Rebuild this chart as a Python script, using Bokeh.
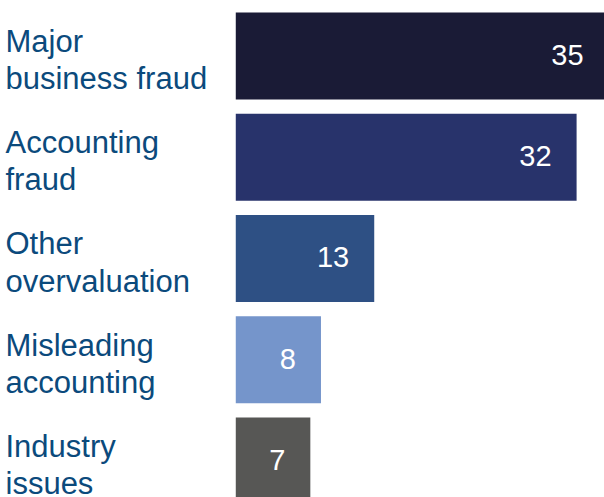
from bokeh.plotting import figure
from bokeh.models import ColumnDataSource, Range1d
from bokeh.core.properties import value
from bokeh.embed import file_html
from bokeh.resources import INLINE

categories = ["Major\nbusiness fraud", "Accounting\nfraud", "Other\novervaluation",
              "Misleading\naccounting", "Industry\nissues"]
values = [35, 32, 13, 8, 7]
colors = ["#1a1b36", "#28336b", "#2e5084", "#7595cb", "#575755"]
value_labels = [str(v) for v in values]

pos = [len(categories) - 1 - i for i in range(len(categories))]

x_start, x_end = -22.09, 34.62
y_start, y_end = -0.361, 4.548

src = ColumnDataSource(dict(cat=categories, y=pos, v=values, c=colors,
                            lbl=value_labels, lx=[x_start] * len(values)))

p = figure(width=604, height=497, output_backend="svg", toolbar_location=None,
           x_range=Range1d(x_start, x_end), y_range=Range1d(y_start, y_end),
           min_border=0, outline_line_color=None, background_fill_color="white",
           border_fill_color="white")
p.axis.visible = False
p.grid.visible = False

p.hbar(y="y", left=0, right="v", height=0.86, fill_color="c", line_color=None, source=src)

p.text(x="v", y="y", text="lbl", source=src, text_align="right", text_baseline="middle",
       x_offset=-25, y_offset=-1, text_color="white", text_font=value("Liberation Sans"),
       text_font_size="29px")

p.text(x="lx", y="y", text="cat", source=src, text_align="left", text_baseline="middle",
       x_offset=5, y_offset=4, text_color="#0b4a7c", text_font=value("Liberation Sans"),
       text_font_size="31px", text_line_height=1.06)

open("out.html", "w").write(file_html(p, INLINE))
